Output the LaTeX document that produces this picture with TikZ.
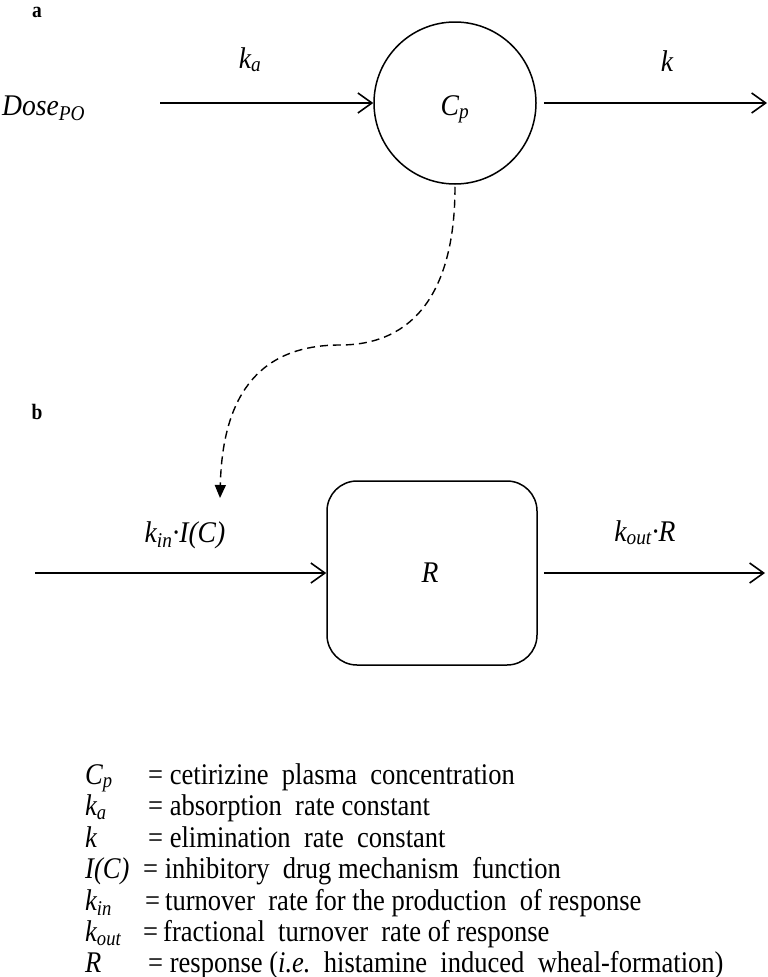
\documentclass[tikz,border=0pt]{standalone}
\usepackage{fontspec}
\setmainfont{Liberation Serif}[FakeStretch=0.885]
\newfontfamily\lblfont{Liberation Serif}[FakeStretch=0.92]
\usetikzlibrary{arrows.meta}
\newcommand{\sub}[1]{\textsubscript{#1}}
\begin{document}
\begin{tikzpicture}[x=1pt,y=-1pt,
  flow/.style={line width=1.6pt,-{Straight Barb[length=14pt,width=20pt,line width=1.6pt]}},
  infl/.style={line width=1.4pt,dash pattern=on 8pt off 5pt,-{Triangle[length=13pt,width=11pt]}},
  lbl/.style={font=\lblfont\fontsize{30}{34}\selectfont\itshape,inner sep=0pt,anchor=base},
  panel/.style={font=\fontsize{22}{24}\selectfont\bfseries,inner sep=0pt,anchor=base},
  legend/.style={font=\fontsize{30}{34}\selectfont,inner sep=0pt,anchor=base west},
  comp/.style={draw,line width=1.5pt,circle,minimum size=162pt,inner sep=0pt},
  resp/.style={draw,line width=1.5pt,rounded corners=30pt,minimum width=210pt,minimum height=184pt,inner sep=0pt}]
\useasboundingbox (0,0) rectangle (768,977);
% panel a
\node[panel] (pa) at (37,17) {a};
\node[lbl,anchor=base west] (dose) at (2,115) {Dose\sub{PO}};
\node[comp] (Cp) at (455,103) {};
\node[lbl] (Cplbl) at (455,115) {C\sub{p}};
\coordinate (ain) at (160,103);
\coordinate (aout) at (767,103);
\draw[flow] (ain) -- (Cp.west);
\draw[flow,shorten <=7pt] (Cp.east) -- (aout);
\node[lbl] (ka) at (250,68) {k\sub{a}};
\node[lbl] (k) at (667,71) {k};
% panel b
\node[panel] (pb) at (37,419) {b};
\node[resp] (R) at (432,573) {};
\node[lbl] (Rlbl) at (430,582) {R};
\coordinate (bin) at (35,573);
\coordinate (bout) at (765,573);
\draw[flow] (bin) -- (R.west);
\draw[flow,shorten <=6pt] (R.east) -- (bout);
\node[lbl] (kin) at (185,542) {k\sub{in}\textperiodcentered I(C)};
\node[lbl] (kout) at (645,541) {k\sub{out}\textperiodcentered R};
\coordinate (tip) at (220,498);
\draw[infl,shorten <=2pt] (Cp.south) .. controls (455,290) and (415,345) .. (340,345)
   .. controls (245,345) and (222,415) .. (tip);
% legend
\node[legend] (l1) at (85,784) {\makebox[63pt][l]{\itshape C\sub{p}}= cetirizine\ \ plasma\ \ concentration};
\node[legend] (l2) at (85,815.5) {\makebox[63pt][l]{\itshape k\sub{a}}= absorption\ \ rate constant};
\node[legend] (l3) at (85,847) {\makebox[63pt][l]{\itshape k}= elimination\ \ rate\ \ constant};
\node[legend] (l4) at (85,878.5) {\makebox[58pt][l]{\itshape I(C)}= inhibitory\ \ drug mechanism\ \ function};
\node[legend] (l5) at (85,910) {\makebox[60pt][l]{\itshape k\sub{in}}=\,turnover\ \ rate for\ the\ production\ \ of response};
\node[legend] (l6) at (85,941.5) {\makebox[58pt][l]{\itshape k\sub{out}}=\,fractional\ \ turnover\ \ rate\ of response};
\node[legend] (l7) at (85,972) {\makebox[63pt][l]{\itshape R}= response (\textit{i.e.}\ \ histamine\ \ induced\ \ wheal-formation)};
\end{tikzpicture}
\end{document}
